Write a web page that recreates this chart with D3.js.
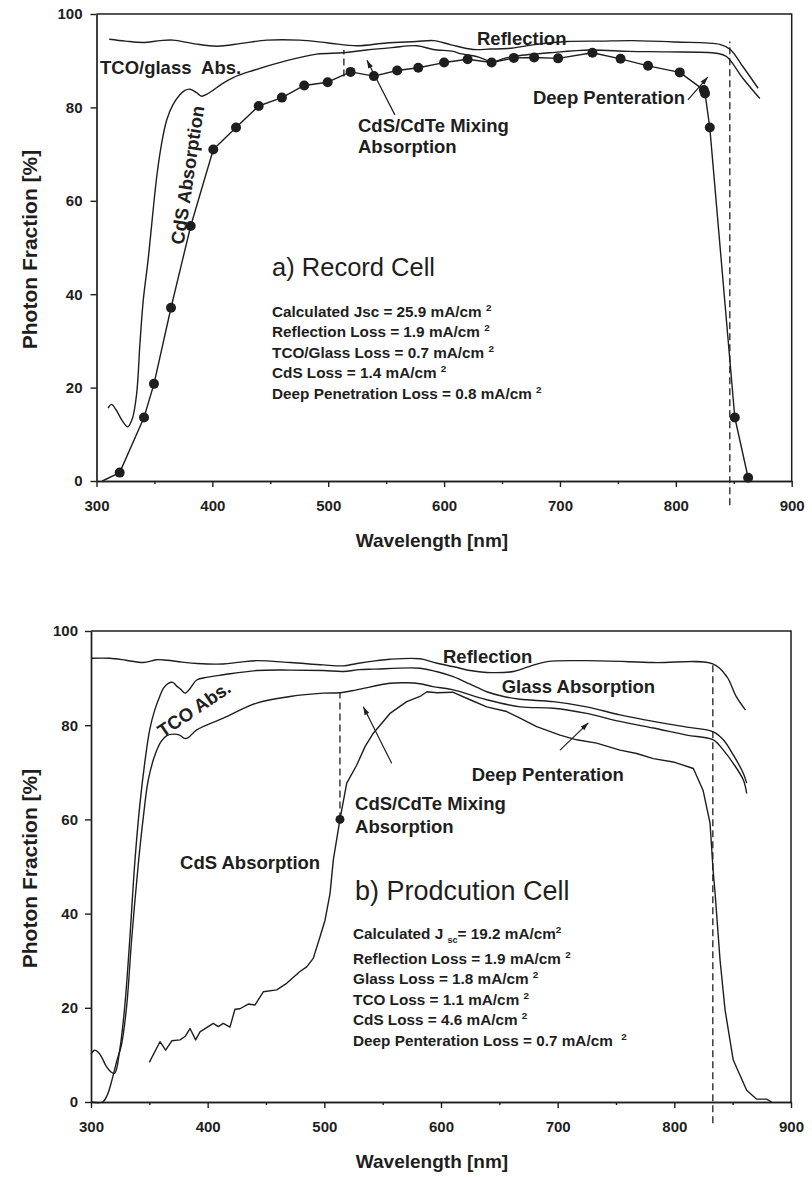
<!DOCTYPE html>
<html>
<head>
<meta charset="utf-8">
<script src="https://cdn.jsdelivr.net/npm/d3@7"></script>
<style>
  body { margin: 0; background: #ffffff; }
  svg { display: block; font-family: "Liberation Sans", Arial, Helvetica, sans-serif; }
  text { white-space: pre; }
</style>
</head>
<body>
<svg id="chart" width="812" height="1177"></svg>
<script>
// ---- axis ticks -------------------------------------------------------
const xTicks = [300, 400, 500, 600, 700, 800, 900];
const xMinorTicks = [350, 450, 550, 650, 750, 850];
const yTicks = [0, 20, 40, 60, 80, 100];

// ---- a) Record cell  [wavelength nm, photon fraction %] -----------------
const recordReflection = [
  [311, 94.6], [325, 94.2], [340, 93.9], [355, 94.3], [366, 94.4], [385, 93.6],
  [404, 93.1], [425, 93.7], [447, 94.4], [475, 94.4], [500, 93.8], [525, 93.2],
  [550, 93.8], [576, 94.1], [591, 94.3], [606, 93.4], [625, 92.4], [640, 92.5],
  [655, 92.6], [680, 93.5], [706, 94.1], [735, 94.2], [763, 94.3], [800, 94.0],
  [838, 93.5], [847, 92.4], [858, 88.7], [871, 84.1]
];
const recordTcoGlass = [
  [310, 15.6], [313, 16.4], [317, 15.2], [322, 13.0], [327, 11.6], [331, 13.4],
  [334.7, 18.8], [337.5, 29.5], [340.4, 38.8], [344.5, 47.3], [352, 65.2], [356, 72.0],
  [360.6, 77.3], [366, 80.6], [372, 82.7], [376, 83.6], [380.7, 83.9], [386, 83.2],
  [390.8, 82.4], [395, 82.8], [400.8, 83.7], [408, 85.0], [418, 86.4], [435, 87.9],
  [461, 89.8], [490, 91.4], [512.6, 91.7], [533, 92.3], [555, 92.8], [576.5, 93.2],
  [590.6, 92.4], [608, 92.0], [614, 91.5], [628, 90.9], [642, 89.8], [652, 90.5],
  [662.6, 91.0], [691, 91.7], [726, 92.3], [760, 92.0], [792, 91.9], [835, 91.6],
  [843.7, 90.9], [858, 86.2], [872.5, 81.9]
];
const recordAbsorptionStart = [305, 0];
const recordAbsorption = [
  [320, 1.8], [341, 13.6], [349.6, 20.8], [364.3, 37.1], [381.3, 54.6], [400.8, 71.0],
  [420.4, 75.7], [440, 80.3], [460, 82.1], [479.3, 84.7], [499.5, 85.4], [519.3, 87.6],
  [539.4, 86.7], [559.5, 87.9], [577.7, 88.5], [600, 89.6], [620.3, 90.3], [641, 89.6],
  [660.2, 90.6], [677.7, 90.7], [698.4, 90.5], [728, 91.7], [752.3, 90.4], [776, 88.9],
  [803.4, 87.5], [824.2, 83.7], [825.2, 83.0], [829.3, 75.7], [850.9, 13.6], [862.4, 0.7]
];
const recordDashes = [[513.5, 86.6, 92.3], [846.6, -5.2, 94.1]];   // [nm, from %, to %]
const recordArrows = [[[557.5, 78.4], [533.4, 90.1]], [[810.4, 81.6], [827.6, 86.5]]];
const recordStats = [
  "Calculated Jsc = 25.9 mA/cm ^{2}",
  "Reflection Loss = 1.9 mA/cm ^{2}",
  "TCO/Glass Loss = 0.7 mA/cm ^{2}",
  "CdS Loss = 1.4 mA/cm ^{2}",
  "Deep Penetration Loss = 0.8 mA/cm ^{2}"
];

// ---- b) Production cell -------------------------------------------------
const productionReflection = [
  [300, 94.2], [316, 94.2], [330, 93.8], [345, 93.3], [356, 93.9], [365, 93.8],
  [378, 93.4], [391, 93.1], [413, 93.0], [428, 93.4], [442, 93.7], [471, 93.3],
  [499, 92.8], [516, 92.6], [528, 93.1], [545, 93.7], [556, 94.0], [582, 94.1],
  [596, 93.2], [611, 92.4], [625, 91.6], [639, 91.2], [662, 91.4], [676, 92.5],
  [691, 93.5], [725, 93.7], [782, 93.3], [833, 93.0], [845, 90.3], [853, 86.1], [861, 83.2]
];
const productionGlass = [
  [300, 10.2], [303, 11.0], [306, 10.6], [309, 9.6], [313, 7.6], [317, 6.4], [320.3, 6.1],
  [324.6, 11.0], [328.9, 20.2], [333.2, 34.4], [337.5, 50.7], [341.7, 62.7], [346, 71.9],
  [350.3, 79.0], [354.6, 83.2], [358.9, 86.1], [362, 87.8], [366.3, 88.9], [370, 89.1],
  [373.5, 88.3], [377, 87.6], [380.6, 86.8], [384.9, 87.8], [390.6, 89.6], [400, 90.2],
  [413.4, 90.7], [442, 91.6], [470.6, 91.7], [499.1, 91.6], [516.3, 91.4], [530, 91.8],
  [542, 91.9], [582, 92.1], [596, 91.4], [610.5, 90.3], [625, 88.7], [639.2, 87.1],
  [652, 86.2], [667.7, 85.5], [696.3, 85.0], [724.9, 83.9], [753.4, 82.2], [782, 80.8],
  [810.6, 79.6], [833.4, 78.6], [842, 76.9], [850.5, 73.7], [859.1, 69.8], [862, 67.7]
];
const productionTco = [
  [300, 0], [310, 0], [314, 1.5], [318, 4.7], [322.3, 8.9], [326, 12.0], [330.5, 20.2],
  [334.8, 34.4], [340.6, 50.7], [344.9, 60.6], [349.1, 68.4], [354.6, 73.5], [360, 76.5],
  [365, 77.8], [371, 78.1], [376, 77.9], [380, 77.2], [383, 77.3], [390.6, 79.0],
  [413.4, 81.5], [442, 84.7], [470.6, 86.1], [499.1, 86.8], [513.4, 86.9], [527.7, 87.5],
  [556.3, 88.9], [570.6, 89.0], [582, 88.8], [593, 88.2], [610.5, 87.5], [639.2, 85.4],
  [667.7, 83.9], [696.3, 83.6], [724.9, 82.5], [753.4, 80.8], [782, 79.4], [810.6, 77.9],
  [833.4, 76.9], [842, 74.7], [850.5, 71.9], [859.1, 68.4], [862, 65.5]
];
const productionAbsorption = [
  [350, 8.4], [359.1, 12.8], [364, 11.0], [369.2, 13.0], [376.3, 13.2], [380.6, 13.9],
  [384.9, 15.6], [389.7, 13.2], [393.4, 14.9], [404.8, 16.7], [409.1, 16.0], [413.4, 16.7],
  [419.1, 15.9], [423.4, 19.7], [427.7, 19.8], [434.8, 20.8], [440.6, 20.6], [447.7, 23.4],
  [459.2, 23.8], [467.7, 25.2], [479.1, 27.7], [484.9, 28.7], [490.5, 30.5], [496.3, 35.1],
  [500.6, 38.6], [504.9, 44.3], [507.7, 51.4], [513.4, 60.0], [519.2, 67.7], [527.7, 71.5],
  [535, 75.5], [542, 78.3], [556.3, 82.5], [570.6, 85.0], [582, 86.1], [588, 87.1],
  [596.6, 86.9], [610, 87.0], [624.9, 85.4], [639.2, 83.9], [656.3, 82.9], [667.7, 81.5],
  [682, 79.7], [702, 77.9], [716.3, 76.9], [733.4, 76.2], [753.4, 74.7], [767.7, 74.0],
  [782, 72.9], [799.1, 72.2], [816.3, 70.8], [824.6, 66.2], [830.6, 59.2], [833.2, 49.3],
  [834.9, 44.4], [839.2, 30.1], [843.5, 19.5], [850.5, 8.9], [862, 2.5], [870.6, 0.6],
  [879.1, 0.6], [883.4, 0]
];
const productionMarker = [[513.4, 60.0]];
const productionDashes = [[513.4, 60.0, 86.9], [833.0, -4.5, 93.0]];
const productionArrows = [[[557.7, 71.9], [533.4, 83.9]], [[702, 74.7], [726.3, 80.5]]];
const productionStats = [
  "Calculated J _{sc}= 19.2 mA/cm^{2}",
  "Reflection Loss = 1.9 mA/cm ^{2}",
  "Glass Loss = 1.8 mA/cm ^{2}",
  "TCO Loss = 1.1 mA/cm ^{2}",
  "CdS Loss = 4.6 mA/cm ^{2}",
  "Deep Penteration Loss = 0.7 mA/cm  ^{2}"
];

// ---- drawing ------------------------------------------------------------
const ink = "#1e1e1e";
const svg = d3.select("#chart");

svg.append("defs").append("marker")
  .attr("id", "arrowHead")
  .attr("viewBox", "0 0 10 10")
  .attr("refX", 10).attr("refY", 5)
  .attr("markerWidth", 10).attr("markerHeight", 8)
  .attr("markerUnits", "userSpaceOnUse")
  .attr("orient", "auto")
  .append("path").attr("d", "M0,1.8L10,5L0,8.2Z").attr("fill", ink);

// text with _{sub} and ^{sup} pieces
function richText(sel, str, size) {
  const parts = str.split(/([_^]\{[^}]*\})/).filter(s => s.length);
  let shift = 0;
  parts.forEach(p => {
    let s = 0, txt = p, fs = size;
    if (p[0] === "_") { s = 4; txt = p.slice(2, -1); fs = size * 0.6; }
    else if (p[0] === "^") { s = -6; txt = p.slice(2, -1); fs = size * 0.65; }
    sel.append("tspan").attr("dy", s - shift).attr("font-size", fs).text(txt);
    shift = s;
  });
}

function panel(cfg) {
  const x = d3.scaleLinear().domain([300, 900]).range([cfg.left, cfg.right]);
  const y = d3.scaleLinear().domain([0, 100]).range([cfg.bottom, cfg.top]);
  const g = svg.append("g");

  // frame (top and right edges)
  g.append("path")
    .attr("d", `M${cfg.left},${cfg.top}H${cfg.right}V${cfg.bottom}`)
    .attr("fill", "none").attr("stroke", ink).attr("stroke-width", 1.5);

  const styleAxis = a => {
    a.select(".domain").attr("stroke", ink).attr("stroke-width", 1.7);
    a.selectAll(".tick line").attr("stroke", ink).attr("stroke-width", 1.4);
    a.selectAll(".tick text").attr("fill", ink)
      .attr("font-size", 15).attr("font-weight", "bold")
      .attr("font-family", '"Liberation Sans", Arial, sans-serif');
  };

  g.append("g").attr("transform", `translate(0,${cfg.bottom})`)
    .call(d3.axisBottom(x).tickValues(xMinorTicks).tickSize(3).tickSizeOuter(0).tickFormat(""))
    .call(styleAxis);
  g.append("g").attr("transform", `translate(0,${cfg.bottom})`)
    .call(d3.axisBottom(x).tickValues(xTicks).tickSize(6).tickSizeOuter(0)
      .tickPadding(13).tickFormat(d3.format("d")))
    .call(styleAxis);
  g.append("g").attr("transform", `translate(${cfg.left},0)`)
    .call(d3.axisLeft(y).tickValues(yTicks).tickSize(6).tickSizeOuter(0)
      .tickPadding(cfg.yPad).tickFormat(d3.format("d")))
    .call(styleAxis);

  // axis titles
  g.append("text")
    .attr("transform", `translate(37,${(cfg.top + cfg.bottom) / 2 + 2}) rotate(-90)`)
    .attr("text-anchor", "middle").attr("font-size", 21).attr("font-weight", "bold")
    .attr("fill", ink).text("Photon Fraction [%]");
  g.append("text")
    .attr("x", 432).attr("y", cfg.bottom + 66)
    .attr("text-anchor", "middle").attr("font-size", 19).attr("font-weight", "bold")
    .attr("fill", ink).text("Wavelength [nm]");

  const smooth = d3.line().x(d => x(d[0])).y(d => y(d[1])).curve(d3.curveCatmullRom.alpha(0.5));
  const straight = d3.line().x(d => x(d[0])).y(d => y(d[1]));

  const curve = (data, gen) => g.append("path").datum(data)
    .attr("d", gen).attr("fill", "none").attr("stroke", ink)
    .attr("stroke-width", 1.4).attr("stroke-linejoin", "round");

  const dashes = list => g.selectAll(null).data(list).enter().append("line")
    .attr("x1", d => x(d[0])).attr("x2", d => x(d[0]))
    .attr("y1", d => y(d[1])).attr("y2", d => y(d[2]))
    .attr("stroke", ink).attr("stroke-width", 1.3).attr("stroke-dasharray", "7,4");

  const arrows = list => g.selectAll(null).data(list).enter().append("line")
    .attr("x1", d => x(d[0][0])).attr("y1", d => y(d[0][1]))
    .attr("x2", d => x(d[1][0])).attr("y2", d => y(d[1][1]))
    .attr("stroke", ink).attr("stroke-width", 1.2).attr("marker-end", "url(#arrowHead)");

  const dots = (list, r) => g.selectAll(null).data(list).enter().append("circle")
    .attr("cx", d => x(d[0])).attr("cy", d => y(d[1])).attr("r", r).attr("fill", ink);

  const label = (nm, pct, str, opts = {}) => {
    const t = g.append("text")
      .attr("transform", `translate(${x(nm)},${y(pct)})` + (opts.rotate ? ` rotate(${opts.rotate})` : ""))
      .attr("text-anchor", opts.anchor || "start")
      .attr("font-size", opts.size || 18.5)
      .attr("font-weight", opts.weight || "bold")
      .attr("fill", ink).text(str);
    return t;
  };

  const stats = (nm, pct, lines, gap, firstGap) => {
    let off = 0;
    lines.forEach((s, i) => {
      if (i > 0) off += (i === 1 && firstGap) ? firstGap : gap;
      const t = g.append("text")
        .attr("x", x(nm)).attr("y", y(pct) + off)
        .attr("font-size", 15.3).attr("font-weight", "bold").attr("fill", ink);
      richText(t, s, 15.3);
    });
  };

  return { x, y, g, curve, smooth, straight, dashes, arrows, dots, label, stats };
}

// ---- panel a) -----------------------------------------------------------
const a = panel({ left: 96.5, right: 791.7, top: 14, bottom: 481, yPad: 8 });
a.curve(recordReflection, a.smooth);
a.curve(recordTcoGlass, a.smooth);
a.curve([recordAbsorptionStart, ...recordAbsorption], a.straight);
a.dots(recordAbsorption, 5);
a.dashes(recordDashes);
a.arrows(recordArrows);
a.label(303, 87.2, "TCO/glass  Abs.");
a.label(628.4, 93.4, "Reflection");
a.label(676.7, 80.7, "Deep Penteration");
a.label(525.7, 74.7, "CdS/CdTe Mixing");
a.label(525.7, 70.2, "Absorption");
a.label(384.1, 65.3, "CdS Absorption", { anchor: "middle", rotate: -81.5 });
a.label(451.5, 43.9, "a) Record Cell", { size: 25.5, weight: "normal" });
a.stats(451.5, 35.1, recordStats, 20.4);

// ---- panel b) -----------------------------------------------------------
const b = panel({ left: 91, right: 791, top: 631, bottom: 1102, yPad: 7 });
b.curve(productionReflection, b.smooth);
b.curve(productionGlass, b.smooth);
b.curve(productionTco, b.smooth);
b.curve(productionAbsorption, b.straight);
b.dots(productionMarker, 4.5);
b.dashes(productionDashes);
b.arrows(productionArrows);
b.label(361.7, 77.3, "TCO Abs.", { rotate: -34 });
b.label(376.3, 49.5, "CdS Absorption");
b.label(526.3, 62.0, "CdS/CdTe Mixing");
b.label(526.3, 57.1, "Absorption");
b.label(601.7, 93.2, "Reflection");
b.label(652, 86.8, "Glass Absorption");
b.label(626.3, 68.2, "Deep Penteration");
b.label(526.3, 42.9, "b) Prodcution Cell", { size: 27, weight: "normal" });
b.stats(524.6, 34.6, productionStats, 20.4, 25);
</script>
</body>
</html>
